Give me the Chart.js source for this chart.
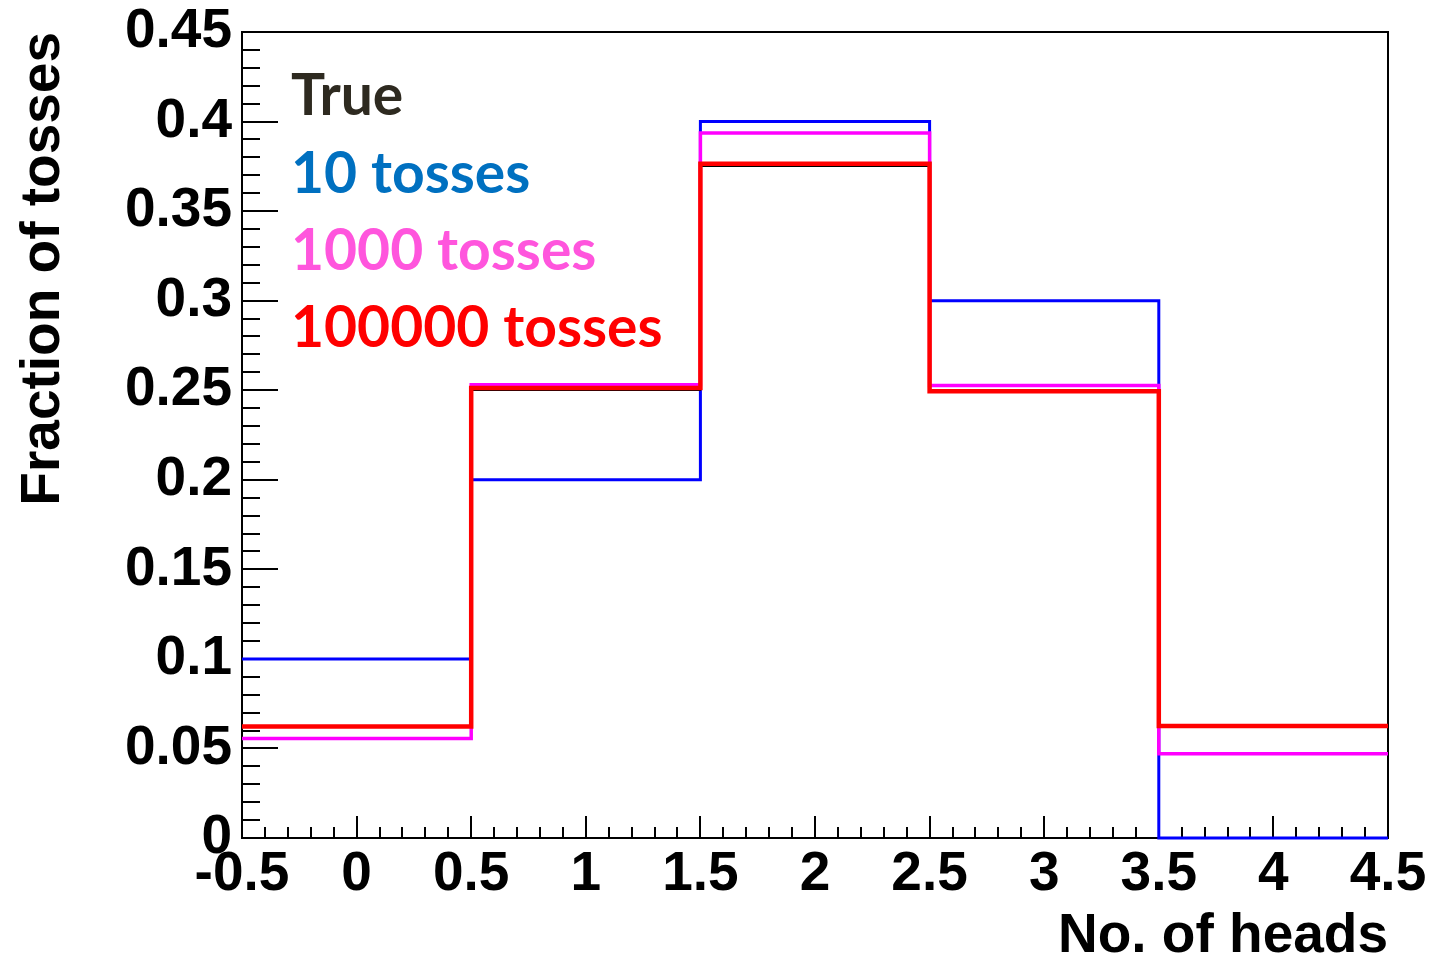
<!DOCTYPE html>
<html>
<head>
<meta charset="utf-8">
<script src="https://cdn.jsdelivr.net/npm/chart.js@4/dist/chart.umd.min.js"></script>
<style>
  html, body { margin: 0; padding: 0; background: #ffffff; }
  #wrap { position: relative; width: 1432px; height: 962px; }
  canvas { display: block; }
</style>
</head>
<body>
<div id="wrap"><canvas id="chart" width="1432" height="962"></canvas></div>
<script>
// Bin edges of the "No. of heads" histogram (4 coin tosses per trial)
const binEdges = [-0.5, 0.5, 1.5, 2.5, 3.5, 4.5];

// Fraction of trials per bin
const trueFractions   = [0.0625, 0.25, 0.375, 0.25, 0.0625];
const tosses10        = [0.10, 0.20, 0.40, 0.30, 0.00];
const tosses1000      = [0.0555, 0.253, 0.3936, 0.2527, 0.047];
const tosses100000    = [0.0622, 0.2512, 0.3765, 0.2494, 0.0626];

// Legend entries
const seriesNames  = ['True', '10 tosses', '1000 tosses', '100000 tosses'];
const legendColors = ['#2e2a20', '#0070c0', '#ff55dd', '#ff0000'];

// Axis titles
const xTitle = 'No. of heads';
const yTitle = 'Fraction of tosses';

// Step outline: start at the lower edge of the first bin, then one point
// per upper bin edge carrying that bin's value (drawn vertical-then-horizontal)
function stepPoints(values) {
  const pts = [{ x: binEdges[0], y: values[0] }];
  values.forEach((v, i) => pts.push({ x: binEdges[i + 1], y: v }));
  return pts;
}

const axisFont = { family: "'Liberation Sans', Arial, sans-serif", weight: 'bold', size: 55 };

function fmt(v) {
  return String(Number(v.toFixed(2)));
}

// Frame and inward-pointing major/minor tick marks
const frameTicks = {
  id: 'frameTicks',
  beforeDatasetsDraw(chart) {
    const { ctx, chartArea: a, scales: { x, y } } = chart;
    ctx.save();
    ctx.strokeStyle = '#000';
    ctx.lineWidth = 2;
    ctx.strokeRect(a.left, a.top, a.right - a.left, a.bottom - a.top);
    ctx.beginPath();
    // y ticks: majors every 0.05, minors every 0.01
    for (let k = 0; k <= 45; k++) {
      const py = Math.round(y.getPixelForValue(k / 100));
      const len = (k % 5 === 0) ? 36 : 18;
      ctx.moveTo(a.left, py);
      ctx.lineTo(a.left + len, py);
    }
    // x ticks: majors every 0.5, minors every 0.1
    for (let k = -5; k <= 45; k++) {
      const px = Math.round(x.getPixelForValue(k / 10));
      const len = (k % 5 === 0) ? 22 : 11;
      ctx.moveTo(px, a.bottom);
      ctx.lineTo(px, a.bottom - len);
    }
    ctx.stroke();
    ctx.restore();
  }
};

// Coloured legend text in the upper-left corner of the frame
const textLegend = {
  id: 'textLegend',
  afterDatasetsDraw(chart) {
    const { ctx, chartArea: a } = chart;
    ctx.save();
    ctx.font = "bold 57px Lato, 'Open Sans', sans-serif";
    ctx.textAlign = 'left';
    ctx.textBaseline = 'alphabetic';
    const baselines = [115, 193, 270, 347];
    seriesNames.forEach((name, i) => {
      ctx.fillStyle = legendColors[i];
      ctx.fillText(name, a.left + 49, baselines[i]);
    });
    ctx.restore();
  }
};

const common = { stepped: 'after', fill: false, pointRadius: 0, clip: false, tension: 0 };

new Chart(document.getElementById('chart'), {
  type: 'line',
  data: {
    datasets: [
      { ...common, label: seriesNames[3], data: stepPoints(tosses100000), borderColor: '#ff0000', borderWidth: 4.5, order: 0 },
      { ...common, label: seriesNames[0], data: stepPoints(trueFractions), borderColor: '#000000', borderWidth: 1.5, order: 1 },
      { ...common, label: seriesNames[2], data: stepPoints(tosses1000), borderColor: '#ff00ff', borderWidth: 3.5, order: 2 },
      { ...common, label: seriesNames[1], data: stepPoints(tosses10), borderColor: '#0000ff', borderWidth: 3, order: 3 }
    ]
  },
  options: {
    responsive: false,
    animation: false,
    layout: { padding: { left: 0, right: 44, top: 32, bottom: 0 } },
    plugins: { legend: { display: false }, tooltip: { enabled: false } },
    scales: {
      x: {
        type: 'linear',
        min: -0.5,
        max: 4.5,
        grid: { display: false, drawTicks: false },
        border: { display: false },
        ticks: {
          stepSize: 0.5,
          color: '#000',
          font: axisFont,
          padding: 4,
          maxRotation: 0,
          autoSkip: false,
          callback: (v) => fmt(v)
        },
        title: {
          display: true,
          text: xTitle,
          align: 'end',
          color: '#000',
          font: { ...axisFont, lineHeight: 1 },
          padding: { top: 0, bottom: -2 }
        },
        afterFit(scale) {
          scale.height = 124;
          scale.paddingLeft = 0; scale.paddingRight = 0;
          scale.paddingTop = 0; scale.paddingBottom = 0;
        }
      },
      y: {
        type: 'linear',
        min: 0,
        max: 0.45,
        grid: { display: false, drawTicks: false },
        border: { display: false },
        ticks: {
          stepSize: 0.05,
          color: '#000',
          font: axisFont,
          padding: 10,
          autoSkip: false,
          callback: (v) => fmt(v)
        },
        title: {
          display: true,
          text: yTitle,
          align: 'end',
          color: '#000',
          font: { ...axisFont, lineHeight: 1 },
          padding: { top: 16, bottom: 0 }
        },
        afterFit(scale) {
          scale.width = 242;
          scale.paddingLeft = 0; scale.paddingRight = 0;
          scale.paddingTop = 0; scale.paddingBottom = 0;
        }
      }
    }
  },
  plugins: [frameTicks, textLegend]
});
</script>
</body>
</html>
